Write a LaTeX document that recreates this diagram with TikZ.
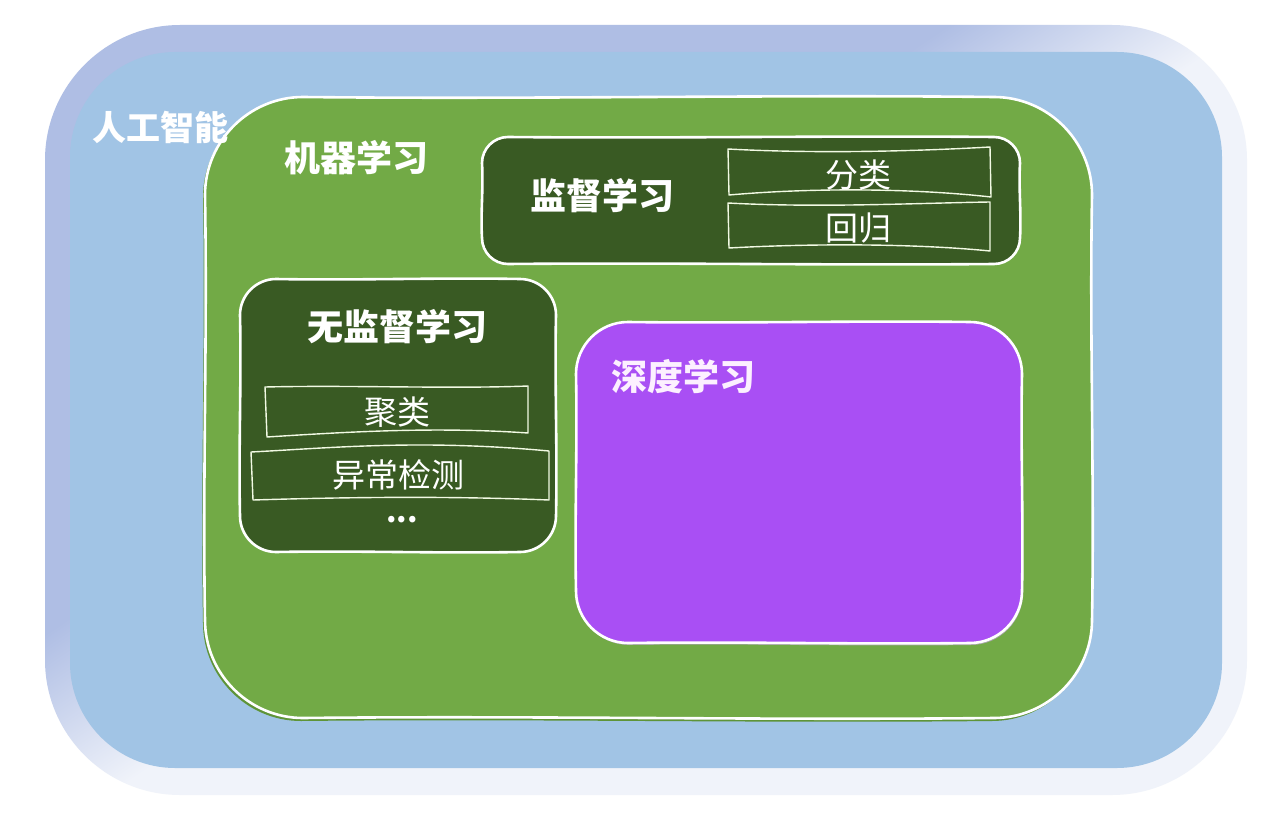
\documentclass[tikz,border=0pt]{standalone}
\usepackage{fontspec}
\setmainfont{Noto Sans CJK SC}
\definecolor{frL}{HTML}{F0F3FA}
\definecolor{frD}{HTML}{AFBEE4}
\definecolor{aiblue}{HTML}{A1C4E5}
\definecolor{mlgreen}{HTML}{72AA46}
\definecolor{mlshadow}{HTML}{5E9438}
\definecolor{dkgreen}{HTML}{395A23}
\definecolor{dlpurple}{HTML}{A94FF4}
\definecolor{cream}{HTML}{F2FAE4}
\definecolor{pinkw}{HTML}{FCF0FF}
\pgfdeclareverticalshading{frameshade}{100bp}{color(0bp)=(frL); color(49bp)=(frL); color(58bp)=(frD); color(100bp)=(frD)}
% rounded box with slightly wobbly edges: x1,y1,x2,y2,r,amp
\newcommand\wobbox[6]{%
 ({#1},{#2+#5})
 .. controls ({#1},{#2+0.45*#5}) and ({#1+0.45*#5},{#2}) .. ({#1+#5},{#2})
 .. controls ({#1+#5+(#3-#1-2*#5)/3},{#2+#6}) and ({#1+#5+2*(#3-#1-2*#5)/3},{#2-#6}) .. ({#3-#5},{#2})
 .. controls ({#3-0.45*#5},{#2}) and ({#3},{#2+0.45*#5}) .. ({#3},{#2+#5})
 .. controls ({#3-#6},{#2+#5+(#4-#2-2*#5)/3}) and ({#3+#6},{#2+#5+2*(#4-#2-2*#5)/3}) .. ({#3},{#4-#5})
 .. controls ({#3},{#4-0.45*#5}) and ({#3-0.45*#5},{#4}) .. ({#3-#5},{#4})
 .. controls ({#3-#5-(#3-#1-2*#5)/3},{#4+#6}) and ({#3-#5-2*(#3-#1-2*#5)/3},{#4-#6}) .. ({#1+#5},{#4})
 .. controls ({#1+0.45*#5},{#4}) and ({#1},{#4-0.45*#5}) .. ({#1},{#4-#5})
 .. controls ({#1-#6},{#4-#5-(#4-#2-2*#5)/3}) and ({#1+#6},{#4-#5-2*(#4-#2-2*#5)/3}) .. cycle}
\tikzset{
  border/.style={draw=white, line width=2.6pt, line join=round},
  subborder/.style={draw=cream, line width=1.4pt, line join=round},
  head/.style={text=white, inner sep=0pt, font=\fontsize{36}{40}\selectfont\bfseries},
  item/.style={text=white, inner sep=0pt, font=\fontsize{33}{38}\selectfont},
}
\begin{document}
\begin{tikzpicture}[x=1pt,y=-1pt]
\useasboundingbox (0,0) rectangle (1263,832);
\fill[white] (0,0) rectangle (1263,832);
% outer frame
\shade[shading=frameshade, shading angle=34] \wobbox{45}{25}{1247}{795}{135}{0};
% AI area
\fill[aiblue] \wobbox{70}{52}{1222}{768}{105}{0};
% machine learning area
\fill[mlshadow] \wobbox{203}{99}{1090}{721}{98}{2.5};
\fill[mlgreen] \wobbox{205}{97}{1092}{718}{98}{2.5};
\draw[border] \wobbox{205}{97}{1092}{718}{98}{2.5};
% supervised
\filldraw[fill=dkgreen, border] \wobbox{482}{137}{1020}{264}{26}{1.5};
\draw[subborder] (728,149) .. controls (820,154) and (920,151) .. (990,147) -- (991,197)
   .. controls (920,189) and (820,187) .. (729,195) -- cycle;
\draw[subborder] (728,203) .. controls (820,208) and (920,203) .. (990,202) -- (990,251)
   .. controls (920,244) and (820,243) .. (729,248) -- cycle;
% unsupervised
\filldraw[fill=dkgreen, border] \wobbox{240}{279}{556}{552}{36}{1.5};
\draw[subborder] (265,387) .. controls (350,385) and (450,389) .. (528,386) -- (528,433)
   .. controls (440,427) and (360,431) .. (267,437) -- cycle;
\draw[subborder] (251,452) .. controls (330,448) and (420,439) .. (549,451) -- (549,500)
   .. controls (450,496) and (350,497) .. (253,500) -- cycle;
% deep learning
\fill[black!35] \wobbox{577}{324}{1023}{645}{52}{1.5};
\filldraw[fill=dlpurple, border] \wobbox{576}{322}{1022}{643}{52}{1.5};
% texts
\node[head, anchor=west, font=\fontsize{34}{38}\selectfont\bfseries] (ai) at (92,127) {人工智能};
\node[head, anchor=west] (ml) at (284,158) {机器学习};
\node[head] (sup) at (602,196) {监督学习};
\node[item] (cls) at (858,175) {分类};
\node[item] (reg) at (858,228) {回归};
\node[head] (unsup) at (397,327) {无监督学习};
\node[item] (clu) at (397,412) {聚类};
\node[item] (ano) at (398,475) {异常检测};
\node[head, font=\fontsize{30}{34}\selectfont\bfseries] (dots) at (402,520) {...};
\node[head, anchor=west, text=pinkw] (dl) at (611,377) {深度学习};
\end{tikzpicture}
\end{document}
